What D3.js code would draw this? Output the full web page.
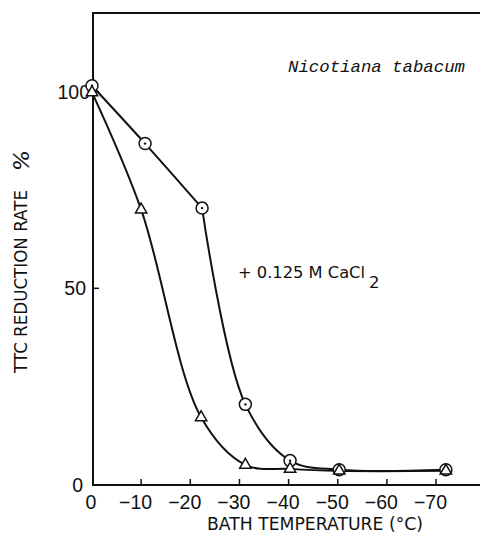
<!DOCTYPE html>
<html><head><meta charset="utf-8">
<script src="https://cdn.jsdelivr.net/npm/d3@7"></script>
<style>html,body{margin:0;padding:0;background:#fff;}svg{display:block;}</style>
</head><body>
<script>
// ---- data ----
const xTicks = [0, -10, -20, -30, -40, -50, -60, -70];
const xTickLabels = ["0", "\u221210", "\u221220", "\u221230", "\u221240", "\u221250", "\u221260", "\u221270"];
const yTicks = [0, 50, 100];
const yTickLabels = ["0", "50", "100"];
// + 0.125 M CaCl2 (circles)
const cacl2Temp = [0, -10.8, -22.4, -31.2, -40.3, -50.3, -72];
const cacl2Rate = [101.5, 86.8, 70.4, 20.5, 6.2, 3.9, 3.9];
// the hand-drawn CaCl2 curve changes direction sharply at this point
const cacl2Break = 2;
// control (triangles)
const ctrlTemp = [0, -10, -22.2, -31.2, -40.3, -50.3, -72];
const ctrlRate = [99.8, 70, 17.2, 5.1, 4.1, 3.6, 3.6];

const W = 480, H = 542;
const svg = d3.select("body").append("svg").attr("width", W).attr("height", H);

const x = d3.scaleLinear().domain([0, -80]).range([92, 92 + 80 * 4.915]);
const y = d3.scaleLinear().domain([0, 120]).range([485, 13]);

const ink = "#111";

// frame: left axis, top line, bottom axis
svg.append("line").attr("x1", x(0) + 1).attr("x2", x(0) + 1).attr("y1", y(120)).attr("y2", y(0))
  .attr("stroke", ink).attr("stroke-width", 2);
svg.append("line").attr("x1", x(0)).attr("x2", W).attr("y1", y(120)).attr("y2", y(120))
  .attr("stroke", ink).attr("stroke-width", 2);
svg.append("line").attr("x1", x(0)).attr("x2", W).attr("y1", y(0)).attr("y2", y(0))
  .attr("stroke", ink).attr("stroke-width", 2);

// x ticks (inward)
svg.selectAll(".xt").data(xTicks.filter(d => d !== 0)).enter().append("line")
  .attr("x1", d => x(d)).attr("x2", d => x(d)).attr("y1", y(0)).attr("y2", y(0) - 6)
  .attr("stroke", ink).attr("stroke-width", 1.5);
svg.selectAll(".xl").data(xTicks).enter().append("text")
  .attr("x", d => d === 0 ? x(d) - 1 : x(d) + 11)
  .attr("y", 509)
  .attr("text-anchor", d => d === 0 ? "middle" : "end")
  .attr("font-family", "Liberation Sans, Arial, sans-serif").attr("font-size", 19.5)
  .attr("fill", ink)
  .text((d, i) => xTickLabels[i]);

// y ticks (inward)
svg.selectAll(".yt").data(yTicks.filter(d => d !== 0)).enter().append("line")
  .attr("x1", x(0) + 1).attr("x2", x(0) + 7).attr("y1", d => y(d)).attr("y2", d => y(d))
  .attr("stroke", ink).attr("stroke-width", 1.5);
svg.selectAll(".yl").data(yTicks).enter().append("text")
  .attr("x", d => d === 100 ? 90 : (d === 0 ? 83 : 86))
  .attr("y", d => y(d) + 7)
  .attr("text-anchor", "end")
  .attr("font-family", "Liberation Sans, Arial, sans-serif").attr("font-size", 19.5)
  .attr("fill", ink)
  .text((d, i) => yTickLabels[i]);

// axis titles
svg.append("text").attr("x", 207).attr("y", 530)
  .attr("font-family", "DejaVu Sans, sans-serif").attr("font-size", 17)
  .attr("textLength", 216).attr("lengthAdjust", "spacingAndGlyphs")
  .attr("fill", ink).text("BATH TEMPERATURE (\u00B0C)");
svg.append("text").attr("transform", "translate(27,373) rotate(-90)")
  .attr("font-family", "DejaVu Sans, sans-serif").attr("font-size", 17)
  .attr("textLength", 183).attr("lengthAdjust", "spacingAndGlyphs")
  .attr("fill", ink).text("TTC REDUCTION RATE");
svg.append("text").attr("transform", "translate(29,171) rotate(-90)")
  .attr("font-family", "DejaVu Sans, sans-serif").attr("font-size", 22).attr("font-style", "italic")
  .attr("fill", ink).text("%");

// annotations
svg.append("text").attr("x", 288).attr("y", 72)
  .attr("font-family", "Liberation Mono, Courier New, monospace").attr("font-size", 17)
  .attr("font-style", "italic").attr("textLength", 177).attr("lengthAdjust", "spacingAndGlyphs")
  .attr("fill", ink).text("Nicotiana tabacum");
svg.append("text").attr("x", 238).attr("y", 278)
  .attr("font-family", "DejaVu Sans, sans-serif").attr("font-size", 16.5)
  .attr("textLength", 127).attr("lengthAdjust", "spacingAndGlyphs")
  .attr("fill", ink).text("+ 0.125 M CaCl");
svg.append("text").attr("x", 369).attr("y", 288)
  .attr("font-family", "DejaVu Sans, sans-serif").attr("font-size", 16.5)
  .attr("fill", ink).text("2");

// curves
const line = d3.line().x(d => x(d[0])).y(d => y(d[1])).curve(d3.curveCatmullRom.alpha(0.5));
const cacl2 = cacl2Temp.map((t, i) => [t, cacl2Rate[i]]);
const ctrl = ctrlTemp.map((t, i) => [t, ctrlRate[i]]);
svg.append("path").attr("d", line(ctrl)).attr("fill", "none").attr("stroke", ink).attr("stroke-width", 2);
[cacl2.slice(0, cacl2Break + 1), cacl2.slice(cacl2Break)].forEach(part => {
  svg.append("path").attr("d", line(part)).attr("fill", "none").attr("stroke", ink).attr("stroke-width", 2);
});

// markers: circles with center dot
const cg = svg.selectAll(".cm").data(cacl2).enter().append("g")
  .attr("transform", d => `translate(${x(d[0])},${y(d[1])})`);
cg.append("circle").attr("r", 6).attr("fill", "#fff").attr("stroke", ink).attr("stroke-width", 1.5);
cg.append("circle").attr("r", 1.2).attr("fill", ink);

// triangles
svg.selectAll(".tm").data(ctrl).enter().append("path")
  .attr("transform", d => `translate(${x(d[0])},${y(d[1])})`)
  .attr("d", d3.symbol().type(d3.symbolTriangle).size(56)())
  .attr("fill", "#fff").attr("stroke", ink).attr("stroke-width", 1.5);
</script>
</body></html>
